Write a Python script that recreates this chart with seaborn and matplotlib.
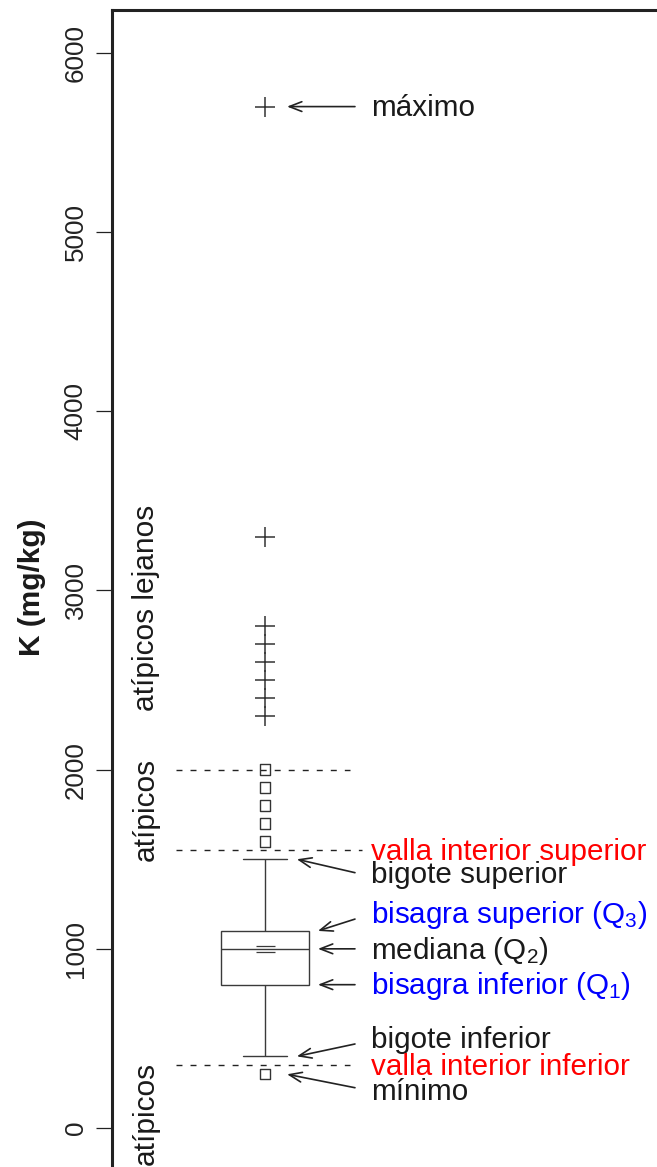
import matplotlib
matplotlib.use("Agg")
import matplotlib.pyplot as plt
import matplotlib.transforms as mtransforms
import numpy as np
import seaborn as sns

# resumen de cinco números: bigote inferior, Q1, mediana, Q3, bigote superior
cinco_numeros = [400, 800, 1000, 1100, 1500]
media_marcas = [980, 1015]
atipicos = [1600, 1700, 1800, 1900, 2000]
minimo = [300]
atipicos_lejanos = [2300, 2400, 2500, 2600, 2700, 2800, 3300]
maximo = [5700]
y_ticks = [0, 1000, 2000, 3000, 4000, 5000, 6000]

etiquetas = [
    "máximo",
    "valla interior superior",
    "bigote superior",
    "bisagra superior (Q$\\mathregular{_3}$)",
    "mediana (Q$\\mathregular{_2}$)",
    "bisagra inferior (Q$\\mathregular{_1}$)",
    "bigote inferior",
    "valla interior inferior",
    "mínimo",
]
etiqueta_y = [5700, 1550, 1420, 1200, 1000, 800, 500, 350, 210]
etiqueta_color = ["#1a1a1a", "#ff0000", "#1a1a1a", "#0000ff", "#1a1a1a",
                  "#0000ff", "#1a1a1a", "#ff0000", "#1a1a1a"]

# flechas: y de origen (junto al texto) -> valor señalado
flecha_desde = [5700, 1425, 1166, 1000, 800, 469, 225]
flecha_hasta = [maximo[0], cinco_numeros[4], cinco_numeros[3], cinco_numeros[2],
                cinco_numeros[1], cinco_numeros[0], minimo[0]]
flecha_x = [0.072, 0.104, 0.173, 0.173, 0.173, 0.104, 0.072]

etiquetas_izq = ["atípicos lejanos", "atípicos", "atípicos"]
etiquetas_izq_y = [2900, 1780, 80]

q1, q3 = cinco_numeros[1], cinco_numeros[3]
riq = q3 - q1
valla_sup = q3 + 1.5 * riq
valla_inf = q1 - 1.5 * riq
valla_ext_sup = q3 + 3 * riq

sns.set_style("ticks")
plt.rcParams["font.family"] = ["Liberation Sans", "DejaVu Sans"]
plt.rcParams["mathtext.default"] = "regular"

W, H = 657, 1167
fig = plt.figure(figsize=(W / 100, H / 100), dpi=100)
ax = fig.add_axes([112 / W, 1 - 1181.8 / H, 612 / W, (1181.8 - 10) / H])

sns.boxplot(y=cinco_numeros, ax=ax, width=0.29, whis=(0, 100), showfliers=False,
            color="white", linecolor="#3a3a3a", linewidth=1.0)

ax.hlines(media_marcas, -0.031, 0.033, color="#3a3a3a", lw=0.9)

sns.scatterplot(x=np.zeros(len(atipicos + minimo)), y=atipicos + minimo, ax=ax,
                marker="s", s=56, facecolor="none", edgecolor="#333333",
                linewidth=1.0, zorder=4)
sns.scatterplot(x=np.zeros(len(atipicos_lejanos + maximo)), y=atipicos_lejanos + maximo,
                ax=ax, marker="+", s=200, color="#333333", linewidth=1.1, zorder=4)

dash = (0, (4.3, 5.8))
ax.hlines(valla_ext_sup, -0.291, 0.278, color="#222222", lw=1.0, linestyle=dash)
ax.hlines(valla_sup, -0.291, 0.317, color="#222222", lw=1.0, linestyle=dash)
ax.hlines(valla_inf, -0.291, 0.278, color="#222222", lw=1.0, linestyle=dash)

for txt, y, c in zip(etiquetas, etiqueta_y, etiqueta_color):
    ax.annotate(txt, xy=(0.346, y), xytext=(0, -7), textcoords="offset points",
                ha="left", va="baseline", fontsize=21.3, color=c)

for y0, y1, x1 in zip(flecha_desde, flecha_hasta, flecha_x):
    ax.annotate("", xy=(x1, y1), xytext=(0.294, y0),
                arrowprops=dict(arrowstyle="->,head_length=0.9,head_width=0.35",
                                lw=1.2, color="#222222", shrinkA=0, shrinkB=0))

for txt, y in zip(etiquetas_izq, etiquetas_izq_y):
    ax.text(-0.363, y, txt, rotation=90, rotation_mode="anchor", ha="center",
            va="baseline", fontsize=21.5, color="#1a1a1a")

ax.set_xlim(-0.5, 1.5)
ax.set_ylim(-300, 6239)
ax.set_xticks([])
ax.set_xlabel("")
ax.set_yticks(y_ticks)
ax.set_yticklabels([str(t) for t in y_ticks])
ax.tick_params(axis="y", length=11.5, width=0.9, pad=6, labelsize=18.7,
               labelrotation=90, color="#222222", labelcolor="#222222")
plt.setp(ax.get_yticklabels(), va="center")

for side in ["right", "bottom"]:
    ax.spines[side].set_visible(False)
for side in ["left", "top"]:
    ax.spines[side].set_linewidth(2.2)
    ax.spines[side].set_color("#222222")

ax.text(-0.131, 3020, "K (mg/kg)", transform=mtransforms.blended_transform_factory(
    ax.transAxes, ax.transData), rotation=90, ha="center", va="center",
    fontsize=21.5, fontweight="bold", color="#1a1a1a")

fig.savefig("out.png", dpi=100)
plt.close(fig)
